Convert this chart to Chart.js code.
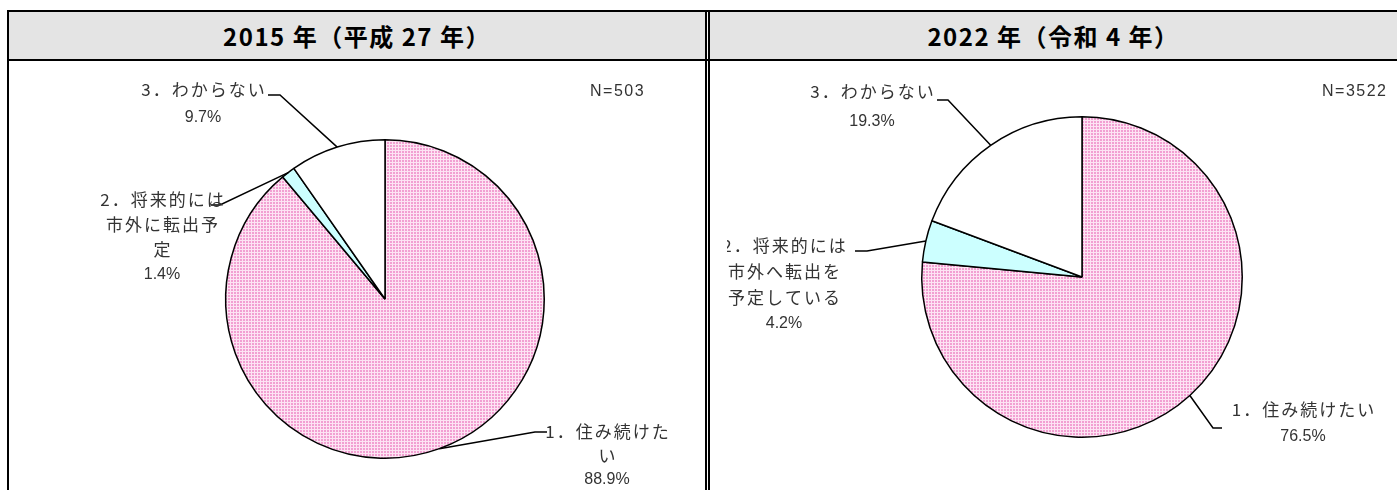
<!DOCTYPE html>
<html>
<head>
<meta charset="utf-8">
<script src="https://cdn.jsdelivr.net/npm/chart.js@4.4.1/dist/chart.umd.min.js"></script>
<style>
  html, body { margin: 0; padding: 0; background: #fff; }
  body { width: 1397px; height: 490px; position: relative; overflow: hidden; }
  .line { position: absolute; background: #000; }
  .head { position: absolute; top: 12px; height: 47px; background: #e4e4e4;
          font-family: "Noto Sans CJK JP", "Noto Sans", sans-serif; font-weight: bold;
          font-size: 24px; letter-spacing: 1.5px; line-height: 47px; text-align: center; color: #000; }
  canvas { position: absolute; }
</style>
</head>
<body>
<div class="head" style="left:9px; width:696px;">2015 年（平成 27 年）</div>
<div class="head" style="left:710px; width:687px;">2022 年（令和 4 年）</div>
<div class="line" style="left:7px; top:10px; width:1390px; height:2px;"></div>
<div class="line" style="left:7px; top:59px; width:1390px; height:2px;"></div>
<div class="line" style="left:7px; top:10px; width:2px; height:480px;"></div>
<div class="line" style="left:705px; top:10px; width:2px; height:480px;"></div>
<div class="line" style="left:708px; top:10px; width:2px; height:480px;"></div>
<canvas id="pie2015" width="696" height="429" style="left:9px; top:61px;"></canvas>
<canvas id="pie2022" width="687" height="429" style="left:710px; top:61px;"></canvas>
<script>
// data
var values2015 = [88.9, 1.4, 9.7];
var values2022 = [76.5, 4.2, 19.3];
var labels2015 = [['1．住み続けた', 'い'], ['2．将来的には', '市外に転出予', '定'], ['3．わからない']];
var labels2022 = [['1．住み続けたい'], ['2．将来的には', '市外へ転出を', '予定している'], ['3．わからない']];
var n2015 = 503;
var n2022 = 3522;

// page-coordinate label layout: elbow, line end, text centre x, first line y
var layout2015 = {
    offset: [9, 61], n: [590, 92], clipX: 0,
    items: [
        { elbow: [535, 432], end: [547, 432], cx: 607, y: 432, step: 24 },
        { elbow: [220, 205], end: [211, 205], cx: 162, y: 200, step: 25 },
        { elbow: [280, 95], end: [268, 95], cx: 203, y: 90, step: 28 }
    ]
};
var layout2022 = {
    offset: [710, 61], n: [1322, 92], clipX: 727,
    items: [
        { elbow: [1213, 428], end: [1222, 428], cx: 1303, y: 410, step: 27 },
        { elbow: [867, 251], end: [855, 251], cx: 784, y: 246, step: 26 },
        { elbow: [948, 100], end: [937, 100], cx: 872, y: 92, step: 30 }
    ]
};

// pink dotted fill like the original spreadsheet pattern
function pinkPattern() {
    var c = document.createElement('canvas');
    c.width = 3; c.height = 3;
    var g = c.getContext('2d');
    g.fillStyle = '#fde4f3';
    g.fillRect(0, 0, 3, 3);
    g.fillStyle = '#f2a0d2';
    g.fillRect(0, 0, 2, 2);
    return g.createPattern(c, 'repeat');
}

function spacedText(ctx, text, cx, y, spacing) {
    var chars = Array.from(text);
    var widths = chars.map(ch => ctx.measureText(ch).width);
    var total = widths.reduce((a, b) => a + b, 0) + spacing * (chars.length - 1);
    var x = cx - total / 2;
    chars.forEach((ch, i) => {
        ctx.fillText(ch, x, y);
        x += widths[i] + spacing;
    });
}

var leaderLabels = {
    id: 'leaderLabels',
    afterDatasetsDraw(chart, args, opts) {
        var ctx = chart.ctx;
        var lay = opts.layout;
        var ox = lay.offset[0], oy = lay.offset[1];
        var arcs = chart.getDatasetMeta(0).data;
        var values = chart.data.datasets[0].data;
        ctx.save();
        if (lay.clipX) {
            ctx.beginPath();
            ctx.rect(lay.clipX - ox, 0, chart.width, chart.height);
            ctx.clip();
        }
        arcs.forEach((arc, i) => {
            var p = arc.getProps(['x', 'y', 'startAngle', 'endAngle', 'outerRadius'], true);
            var mid = (p.startAngle + p.endAngle) / 2;
            var it = lay.items[i];
            ctx.beginPath();
            ctx.moveTo(p.x + p.outerRadius * Math.cos(mid), p.y + p.outerRadius * Math.sin(mid));
            ctx.lineTo(it.elbow[0] - ox, it.elbow[1] - oy);
            ctx.lineTo(it.end[0] - ox, it.end[1] - oy);
            ctx.strokeStyle = '#000';
            ctx.lineWidth = 1.5;
            ctx.stroke();

            ctx.fillStyle = '#333';
            ctx.textBaseline = 'middle';
            ctx.textAlign = 'left';
            var lines = opts.lines[i];
            ctx.font = '17px "Noto Sans CJK JP", sans-serif';
            lines.forEach((ln, k) => {
                spacedText(ctx, ln, it.cx - ox, it.y - oy + k * it.step, 2);
            });
            ctx.font = '16px "Liberation Sans", sans-serif';
            spacedText(ctx, values[i].toFixed(1) + '%', it.cx - ox, it.y - oy + lines.length * it.step, 0);
        });
        ctx.restore();
        ctx.save();
        ctx.fillStyle = '#333';
        ctx.textBaseline = 'middle';
        ctx.textAlign = 'left';
        ctx.font = '16px "Liberation Sans", sans-serif';
        var nText = 'N=' + opts.n;
        var chars = Array.from(nText);
        var x = lay.n[0] - ox;
        chars.forEach(ch => {
            ctx.fillText(ch, x, lay.n[1] - oy);
            x += ctx.measureText(ch).width + 1.5;
        });
        ctx.restore();
    }
};

function makePie(id, values, lines, n, lay, padding) {
    var ctx = document.getElementById(id).getContext('2d');
    return new Chart(ctx, {
        type: 'pie',
        data: {
            labels: lines.map(l => l.join('')),
            datasets: [{
                data: values,
                backgroundColor: [pinkPattern(), '#ccffff', '#ffffff'],
                borderColor: '#000',
                borderWidth: 1.5
            }]
        },
        options: {
            responsive: false,
            animation: false,
            layout: { padding: padding },
            plugins: {
                legend: { display: false },
                tooltip: { enabled: false },
                leaderLabels: { layout: lay, lines: lines, n: n }
            }
        },
        plugins: [leaderLabels]
    });
}

makePie('pie2015', values2015, labels2015, n2015, layout2015,
    { left: 216, right: 160, top: 78, bottom: 31 });
makePie('pie2022', values2022, labels2022, n2022, layout2022,
    { left: 211, right: 154, top: 55, bottom: 52 });
</script>
</body>
</html>
